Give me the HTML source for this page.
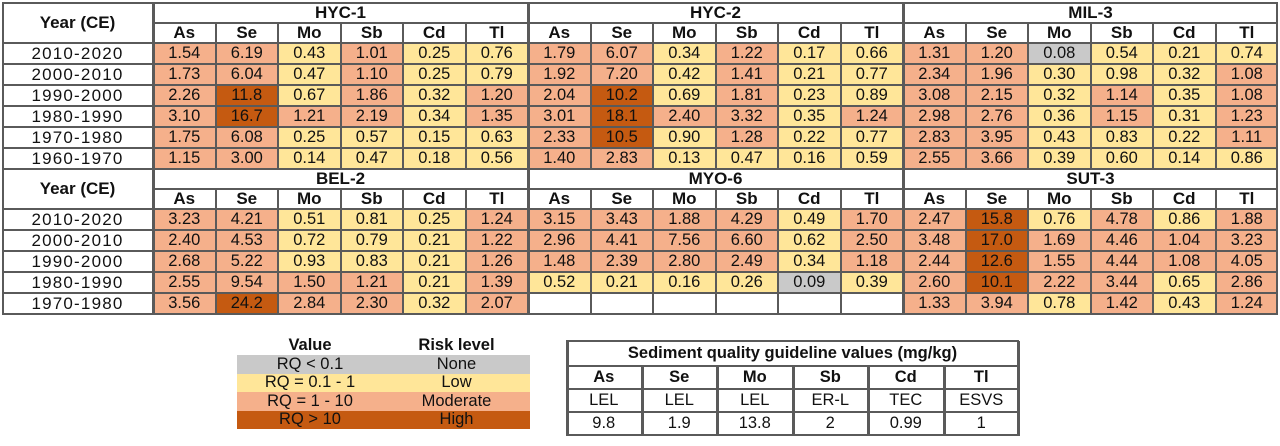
<!DOCTYPE html>
<html><head><meta charset="utf-8">
<style>
html,body{margin:0;padding:0;background:#fff;}
#root{position:relative;width:1280px;height:446px;overflow:hidden;font-family:"Liberation Sans",Arial,sans-serif;color:#111;}
.c{position:absolute;box-sizing:border-box;display:flex;align-items:center;justify-content:center;font-size:16.5px;white-space:nowrap;}
.b{font-weight:bold;}
.ln{position:absolute;background:#5a5a5a;}
</style></head><body>
<div id="root"></div>
<script>
const elements=["As","Se","Mo","Sb","Cd","Tl"];
const topSites=["HYC-1","HYC-2","MIL-3"];
const bottomSites=["BEL-2","MYO-6","SUT-3"];
const topYears=["2010-2020","2000-2010","1990-2000","1980-1990","1970-1980","1960-1970"];
const bottomYears=["2010-2020","2000-2010","1990-2000","1980-1990","1970-1980"];
const hyc1=[[1.54,6.19,0.43,1.01,0.25,0.76],[1.73,6.04,0.47,1.10,0.25,0.79],[2.26,11.8,0.67,1.86,0.32,1.20],[3.10,16.7,1.21,2.19,0.34,1.35],[1.75,6.08,0.25,0.57,0.15,0.63],[1.15,3.00,0.14,0.47,0.18,0.56]];
const hyc2=[[1.79,6.07,0.34,1.22,0.17,0.66],[1.92,7.20,0.42,1.41,0.21,0.77],[2.04,10.2,0.69,1.81,0.23,0.89],[3.01,18.1,2.40,3.32,0.35,1.24],[2.33,10.5,0.90,1.28,0.22,0.77],[1.40,2.83,0.13,0.47,0.16,0.59]];
const mil3=[[1.31,1.20,0.08,0.54,0.21,0.74],[2.34,1.96,0.30,0.98,0.32,1.08],[3.08,2.15,0.32,1.14,0.35,1.08],[2.98,2.76,0.36,1.15,0.31,1.23],[2.83,3.95,0.43,0.83,0.22,1.11],[2.55,3.66,0.39,0.60,0.14,0.86]];
const bel2=[[3.23,4.21,0.51,0.81,0.25,1.24],[2.40,4.53,0.72,0.79,0.21,1.22],[2.68,5.22,0.93,0.83,0.21,1.26],[2.55,9.54,1.50,1.21,0.21,1.39],[3.56,24.2,2.84,2.30,0.32,2.07]];
const myo6=[[3.15,3.43,1.88,4.29,0.49,1.70],[2.96,4.41,7.56,6.60,0.62,2.50],[1.48,2.39,2.80,2.49,0.34,1.18],[0.52,0.21,0.16,0.26,0.09,0.39],[null,null,null,null,null,null]];
const sut3=[[2.47,15.8,0.76,4.78,0.86,1.88],[3.48,17.0,1.69,4.46,1.04,3.23],[2.44,12.6,1.55,4.44,1.08,4.05],[2.60,10.1,2.22,3.44,0.65,2.86],[1.33,3.94,0.78,1.42,0.43,1.24]];
const legendValues=["RQ < 0.1","RQ = 0.1 - 1","RQ = 1 - 10","RQ > 10"];
const legendRisk=["None","Low","Moderate","High"];
const sqgTypes=["LEL","LEL","LEL","ER-L","TEC","ESVS"];
const sqgValues=["9.8","1.9","13.8","2","0.99","1"];

const COL={none:"#c9c9c9",low:"#ffe699",mod:"#f5b08b",high:"#c55a11"};
function color(v){if(v===null)return "#fff";if(v<0.1)return COL.none;if(v<1)return COL.low;if(v<=10)return COL.mod;return COL.high;}
function fmt(v){return v===null?"":(v>=10?v.toFixed(1):v.toFixed(2));}
const root=document.getElementById('root');
function cell(x,y,w,h,txt,bg,bold,name){
  const d=document.createElement('div');
  d.className='c'+(bold?' b':'');
  d.style.left=x+'px';d.style.top=y+'px';d.style.width=w+'px';d.style.height=h+'px';
  d.style.background=bg||'#fff';d.textContent=txt;
  
  
  root.appendChild(d);return d;
}
function hl(x,y,w,t){const d=document.createElement('div');d.className='ln';d.style.left=x+'px';d.style.top=y+'px';d.style.width=w+'px';d.style.height=(t||2)+'px';


root.appendChild(d);}
function vl(x,y,h,t){const d=document.createElement('div');d.className='ln';d.style.left=x+'px';d.style.top=y+'px';d.style.width=(t||2)+'px';d.style.height=h+'px';


root.appendChild(d);}

const X0=2,YW=151,BW=375,CW=62.5,RH=21;
function block(y0,sites,years,datas){
  const hdr=y0+20, dy=y0+41;
  cell(X0,y0,YW,41,"Year (CE)","#fff",true,"year-header").style.fontSize="17px";
  sites.forEach((s,si)=>{
    const bx=X0+YW+si*BW;
    cell(bx,y0,BW,21,s,"#fff",true,"site-header-"+s.toLowerCase()).style.fontSize="17px";
    elements.forEach((e,ei)=>cell(bx+ei*CW,hdr,CW,21,e,"#fff",true,"element-header").style.fontSize="17px");
    datas[si].forEach((row,ri)=>row.forEach((v,ei)=>{
      cell(bx+ei*CW,dy+ri*RH,CW,RH,fmt(v),color(v),false,"rq-cell-"+s.toLowerCase());
    }));
  });
  years.forEach((yr,ri)=>{const c=cell(X0,dy+ri*RH,YW,RH,yr,"#fff",false,"year-label");c.style.fontSize="17px";c.style.letterSpacing="1.2px";});
  const bottom=dy+years.length*RH;
  const W=YW+3*BW;
  hl(X0,y0,W);hl(X0+YW,hdr,3*BW,2);
  for(let r=0;r<=years.length;r++)hl(X0,dy+r*RH-1,W,2);
  vl(X0,y0,bottom-y0);vl(X0+YW-1,y0,bottom-y0,3);
  for(let si=0;si<3;si++){
    const bx=X0+YW+si*BW;
    if(si>0)vl(bx-1,y0,bottom-y0,3);
    for(let ei=1;ei<6;ei++)vl(bx+ei*CW-1,hdr,bottom-hdr,2);
  }
  vl(X0+W-2,y0,bottom-y0,2);
  return bottom;
}
const b1=block(2,topSites,topYears,[hyc1,hyc2,mil3]);
const b2=block(b1-1,bottomSites,bottomYears,[bel2,myo6,sut3]);
hl(X0,b2-1,YW+3*BW,2);

// legend
const LX=237,LW1=146,LW2=147,LY=336;
cell(LX,LY,LW1,19,"Value","#fff",true,"legend-value-header").style.fontSize="16.5px";
cell(LX+LW1,LY,LW2,19,"Risk level","#fff",true,"legend-risk-header").style.fontSize="16.5px";
const legCols=[COL.none,COL.low,COL.mod,COL.high];
legendValues.forEach((v,i)=>{
  cell(LX,LY+19+i*18.5,LW1,18.5,v,legCols[i],false,"legend-entry-value");
  cell(LX+LW1,LY+19+i*18.5,LW2,18.5,legendRisk[i],legCols[i],false,"legend-entry-risk");
});

// SQG table
const SX=566,SCW=75.5,SY=341;
const SW=SCW*6;
cell(SX,SY,SW,25,"Sediment quality guideline values (mg/kg)","#fff",true,"sqg-title").style.fontSize="16.5px";
elements.forEach((e,i)=>{
  cell(SX+i*SCW,SY+25,SCW,23,e,"#fff",true,"sqg-element-header").style.fontSize="16.5px";
  cell(SX+i*SCW,SY+48,SCW,23,sqgTypes[i],"#fff",false,"sqg-guideline-type");
  cell(SX+i*SCW,SY+71,SCW,23,sqgValues[i],"#fff",false,"sqg-guideline-value");
});
[0,25,48,71,94].forEach(o=>hl(SX,SY+o-1,SW,2));
vl(SX,SY,95,3);vl(SX+SW-2,SY,95,3);
for(let i=1;i<6;i++)vl(SX+i*SCW-1,SY+25,70,3);
</script>
</body></html>
